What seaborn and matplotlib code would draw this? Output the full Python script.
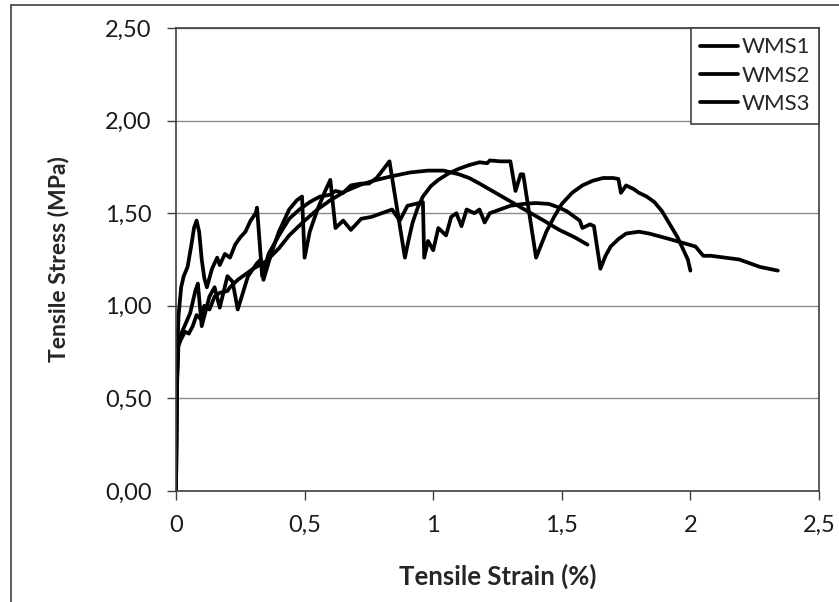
import numpy as np
import pandas as pd
import seaborn as sns
import matplotlib.pyplot as plt
from matplotlib.lines import Line2D

# strain (%) / stress (MPa), one pair of lists per specimen
wms1_strain = [0, 0.003, 0.006, 0.01, 0.02, 0.03, 0.045, 0.06, 0.07, 0.08, 0.09, 0.10,
               0.11, 0.12, 0.14, 0.16, 0.17, 0.19, 0.21, 0.23, 0.25, 0.27, 0.29, 0.31,
               0.315, 0.335, 0.36, 0.40, 0.44, 0.48, 0.52, 0.56, 0.60, 0.62, 0.65, 0.68,
               0.72, 0.75, 0.78, 0.83, 0.89, 0.905, 0.92, 0.94, 0.96, 0.99, 1.02, 1.06,
               1.10, 1.14, 1.18, 1.21, 1.22, 1.26, 1.30, 1.32, 1.34, 1.35, 1.40, 1.42,
               1.44, 1.47, 1.50, 1.54, 1.58, 1.62, 1.66, 1.70, 1.72, 1.73, 1.75, 1.78,
               1.80, 1.83, 1.86, 1.89, 1.92, 1.95, 1.97, 1.99, 2.00]
wms1_stress = [0, 0.50, 0.80, 0.95, 1.10, 1.16, 1.21, 1.33, 1.42, 1.46, 1.40, 1.25,
               1.15, 1.10, 1.20, 1.26, 1.22, 1.28, 1.26, 1.33, 1.37, 1.40, 1.46, 1.50,
               1.53, 1.16, 1.28, 1.38, 1.47, 1.52, 1.56, 1.59, 1.60, 1.62, 1.61, 1.65,
               1.66, 1.66, 1.69, 1.78, 1.26, 1.36, 1.45, 1.53, 1.59, 1.645, 1.68, 1.715,
               1.74, 1.76, 1.775, 1.77, 1.785, 1.78, 1.78, 1.62, 1.71, 1.71, 1.26, 1.33,
               1.40, 1.48, 1.55, 1.61, 1.65, 1.675, 1.69, 1.69, 1.685, 1.61, 1.65, 1.63,
               1.61, 1.59, 1.56, 1.51, 1.44, 1.37, 1.31, 1.25, 1.19]

wms2_strain = [0, 0.004, 0.01, 0.02, 0.03, 0.055, 0.075, 0.085, 0.10, 0.13, 0.15, 0.17,
               0.20, 0.22, 0.24, 0.28, 0.315, 0.33, 0.34, 0.37, 0.40, 0.44, 0.47, 0.49,
               0.50, 0.52, 0.55, 0.58, 0.60, 0.62, 0.65, 0.68, 0.72, 0.76, 0.80, 0.84,
               0.87, 0.90, 0.93, 0.96, 0.965, 0.98, 1.00, 1.02, 1.05, 1.07, 1.09, 1.11,
               1.13, 1.16, 1.18, 1.20, 1.22, 1.26, 1.30, 1.35, 1.40, 1.45, 1.49, 1.52,
               1.54, 1.57, 1.58, 1.61, 1.625, 1.65, 1.67, 1.69, 1.72, 1.75, 1.80, 1.84,
               1.92, 2.02, 2.05, 2.08, 2.19, 2.27, 2.34]
wms2_stress = [0, 0.60, 0.80, 0.85, 0.88, 0.96, 1.08, 1.12, 0.89, 1.05, 1.10, 0.99,
               1.16, 1.13, 0.98, 1.16, 1.23, 1.25, 1.14, 1.28, 1.40, 1.52, 1.57, 1.59,
               1.26, 1.40, 1.52, 1.62, 1.68, 1.42, 1.46, 1.41, 1.47, 1.48, 1.50, 1.52,
               1.46, 1.54, 1.55, 1.56, 1.26, 1.35, 1.30, 1.42, 1.38, 1.48, 1.50, 1.43,
               1.52, 1.50, 1.52, 1.45, 1.50, 1.52, 1.54, 1.55, 1.555, 1.55, 1.53, 1.51,
               1.49, 1.46, 1.42, 1.44, 1.43, 1.20, 1.27, 1.32, 1.36, 1.39, 1.40, 1.39,
               1.36, 1.32, 1.27, 1.27, 1.25, 1.21, 1.19]

wms3_strain = [0, 0.003, 0.008, 0.02, 0.035, 0.05, 0.065, 0.08, 0.095, 0.11, 0.13, 0.15,
               0.17, 0.20, 0.21, 0.24, 0.26, 0.30, 0.35, 0.40, 0.44, 0.50, 0.55, 0.60,
               0.66, 0.72, 0.78, 0.84, 0.91, 0.98, 1.04, 1.10, 1.14, 1.18, 1.23, 1.28,
               1.33, 1.38, 1.43, 1.49, 1.55, 1.60]
wms3_stress = [0, 0.50, 0.78, 0.82, 0.86, 0.85, 0.89, 0.95, 0.93, 1.00, 0.98, 1.05,
               1.07, 1.08, 1.10, 1.14, 1.16, 1.20, 1.24, 1.31, 1.38, 1.46, 1.52, 1.57,
               1.62, 1.655, 1.68, 1.70, 1.72, 1.73, 1.73, 1.71, 1.69, 1.66, 1.62, 1.58,
               1.54, 1.50, 1.46, 1.41, 1.37, 1.33]

samples = ["WMS1", "WMS2", "WMS3"]

frames = []
for name, xs, ys in zip(samples,
                        [wms1_strain, wms2_strain, wms3_strain],
                        [wms1_stress, wms2_stress, wms3_stress]):
    frames.append(pd.DataFrame({"strain": xs, "stress": ys, "sample": name}))
df = pd.concat(frames, ignore_index=True)

sns.set_style("white")
plt.rcParams["font.family"] = ["Lato", "DejaVu Sans"]

fig = plt.figure(figsize=(8.39, 6.02), dpi=100)
ax = fig.add_axes([176 / 839, 1 - 491 / 602, (819 - 176) / 839, (491 - 28) / 602])

sns.lineplot(data=df, x="strain", y="stress", hue="sample", palette=["black"] * 3,
             sort=False, estimator=None, linewidth=2.7, ax=ax)

ax.set_xlim(0, 2.5)
ax.set_ylim(0, 2.5)
xt = [0, 0.5, 1, 1.5, 2, 2.5]
yt = [0, 0.5, 1.0, 1.5, 2.0, 2.5]
ax.set_xticks(xt)
ax.set_yticks(yt)
ax.set_xticklabels(["0", "0,5", "1", "1,5", "2", "2,5"])
ax.set_yticklabels([f"{v:.2f}".replace(".", ",") for v in yt])
ax.tick_params(axis="both", direction="out", length=6.5, width=1, color="#404040",
               labelsize=17, pad=11, labelcolor="#1a1a1a", left=True, bottom=True)
ax.grid(axis="y", color="#8c8c8c", linewidth=1)
ax.grid(axis="x", visible=False)
for s in ax.spines.values():
    s.set_color("#404040")
    s.set_linewidth(1.2)

ax.set_xlabel("Tensile Strain (%)", fontsize=18.5, fontweight="bold", labelpad=20)
ax.set_ylabel("Tensile Stress (MPa)", fontsize=16.5, fontweight="bold", labelpad=26)

handles, labels = ax.get_legend_handles_labels()
leg = ax.legend(handles, labels, loc="upper right", bbox_to_anchor=(1, 1),
                borderaxespad=0, fancybox=False, framealpha=1, edgecolor="#404040",
                fontsize=16, handlelength=1.7, handletextpad=0.15, labelspacing=0.38,
                borderpad=0.42)
leg.get_frame().set_linewidth(1.2)

# outer chart-area border (cropped in the reference)
fig.add_artist(Line2D([11 / 839, 11 / 839], [0, 1 - 5 / 602], color="#404040", lw=1.2))
fig.add_artist(Line2D([11 / 839, 1], [1 - 5 / 602, 1 - 5 / 602], color="#404040", lw=1.2))

fig.savefig("out.png", dpi=100)
